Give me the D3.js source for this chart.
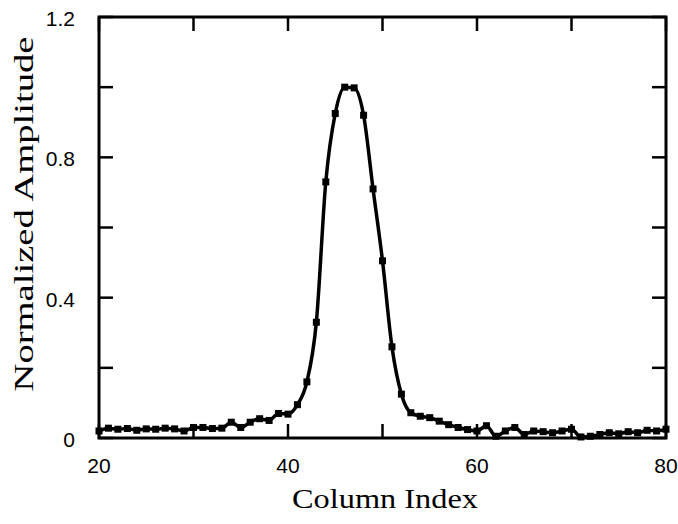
<!doctype html>
<html>
<head>
<meta charset="utf-8">
<script src="https://d3js.org/d3.v7.min.js"></script>
<style>
  body { margin: 0; background: #fff; }
  svg { display: block; }
  .tick-label { font-family: "Liberation Sans", Arial, sans-serif; font-size: 21px; fill: #000; }
  .axis-title { font-family: "Liberation Serif", "Times New Roman", serif; font-size: 27px; fill: #000; }
</style>
</head>
<body>
<svg id="chart" width="678" height="524"></svg>
<script>
// column index (x) and normalized amplitude (y)
var columns = d3.range(20, 81);
var amplitude = [
  0.020, 0.028, 0.025, 0.027, 0.022, 0.026, 0.025, 0.028, 0.026, 0.020, // 20-29
  0.030, 0.030, 0.027, 0.028, 0.045, 0.030, 0.045, 0.055, 0.050, 0.070, // 30-39
  0.068, 0.095, 0.160, 0.330, 0.730, 0.925, 1.000, 0.998, 0.920, 0.710, // 40-49
  0.505, 0.260, 0.125, 0.072, 0.062, 0.058, 0.048, 0.038, 0.030, 0.024, // 50-59
  0.020, 0.035, 0.005, 0.020, 0.030, 0.010, 0.020, 0.018, 0.015, 0.020, // 60-69
  0.025, 0.003, 0.005, 0.010, 0.015, 0.012, 0.018, 0.015, 0.022, 0.020, // 70-79
  0.025                                                                   // 80
];
var xTicks = [20, 30, 40, 50, 60, 70, 80];
var xLabels = [20, 40, 60, 80];
var yTicks = [0, 0.2, 0.4, 0.6, 0.8, 1.0, 1.2];
var yLabels = [0, 0.4, 0.8, 1.2];

var data = columns.map(function(c, i) { return {col: c, amp: amplitude[i]}; });

var svg = d3.select('#chart');
var margin = {top: 17, right: 12, bottom: 86, left: 99},
    width = 678 - margin.left - margin.right,
    height = 524 - margin.top - margin.bottom;

var x = d3.scaleLinear().domain([20, 80]).range([margin.left, margin.left + width]);
var y = d3.scaleLinear().domain([0, 1.2]).range([margin.top + height, margin.top]);

var tickLen = 14;

// inward ticks on all four sides
var g = svg.append('g').attr('stroke', '#000').attr('stroke-width', 2.5);
xTicks.forEach(function(t) {
  g.append('line').attr('x1', x(t)).attr('x2', x(t)).attr('y1', y(0)).attr('y2', y(0) - tickLen);
  g.append('line').attr('x1', x(t)).attr('x2', x(t)).attr('y1', y(1.2)).attr('y2', y(1.2) + tickLen);
});
yTicks.forEach(function(t) {
  g.append('line').attr('x1', x(20)).attr('x2', x(20) + tickLen).attr('y1', y(t)).attr('y2', y(t));
  g.append('line').attr('x1', x(80)).attr('x2', x(80) - tickLen).attr('y1', y(t)).attr('y2', y(t));
});

// frame
svg.append('rect')
  .attr('x', x(20)).attr('y', y(1.2))
  .attr('width', x(80) - x(20)).attr('height', y(0) - y(1.2))
  .attr('fill', 'none').attr('stroke', '#000').attr('stroke-width', 3);

// tick labels
svg.selectAll('.xl').data(xLabels).enter().append('text')
  .attr('class', 'tick-label')
  .attr('x', function(d) { return x(d); })
  .attr('y', y(0) + 35)
  .attr('text-anchor', 'middle')
  .text(function(d) { return d; });

svg.selectAll('.yl').data(yLabels).enter().append('text')
  .attr('class', 'tick-label')
  .attr('x', x(20) - 24)
  .attr('y', function(d) { return y(d) + 9; })
  .attr('text-anchor', 'end')
  .text(function(d) { return d === 0 ? '0' : d3.format('.1f')(d); });

// axis titles
svg.append('text')
  .attr('class', 'axis-title')
  .attr('x', 385).attr('y', 508)
  .attr('text-anchor', 'middle')
  .attr('textLength', 186).attr('lengthAdjust', 'spacingAndGlyphs')
  .text('Column Index');

svg.append('text')
  .attr('class', 'axis-title')
  .attr('transform', 'translate(33,214) rotate(-90)')
  .attr('text-anchor', 'middle')
  .attr('textLength', 355).attr('lengthAdjust', 'spacingAndGlyphs')
  .text('Normalized Amplitude');

// data line
var line = d3.line()
  .x(function(d) { return x(d.col); })
  .y(function(d) { return y(d.amp); })
  .curve(d3.curveMonotoneX);

svg.append('path')
  .datum(data)
  .attr('fill', 'none')
  .attr('stroke', '#000')
  .attr('stroke-width', 3.5)
  .attr('stroke-linejoin', 'round')
  .attr('d', line);

svg.selectAll('.pt').data(data).enter().append('rect')
  .attr('x', function(d) { return x(d.col) - 3.5; })
  .attr('y', function(d) { return y(d.amp) - 3.5; })
  .attr('width', 7).attr('height', 7)
  .attr('fill', '#000');
</script>
</body>
</html>
